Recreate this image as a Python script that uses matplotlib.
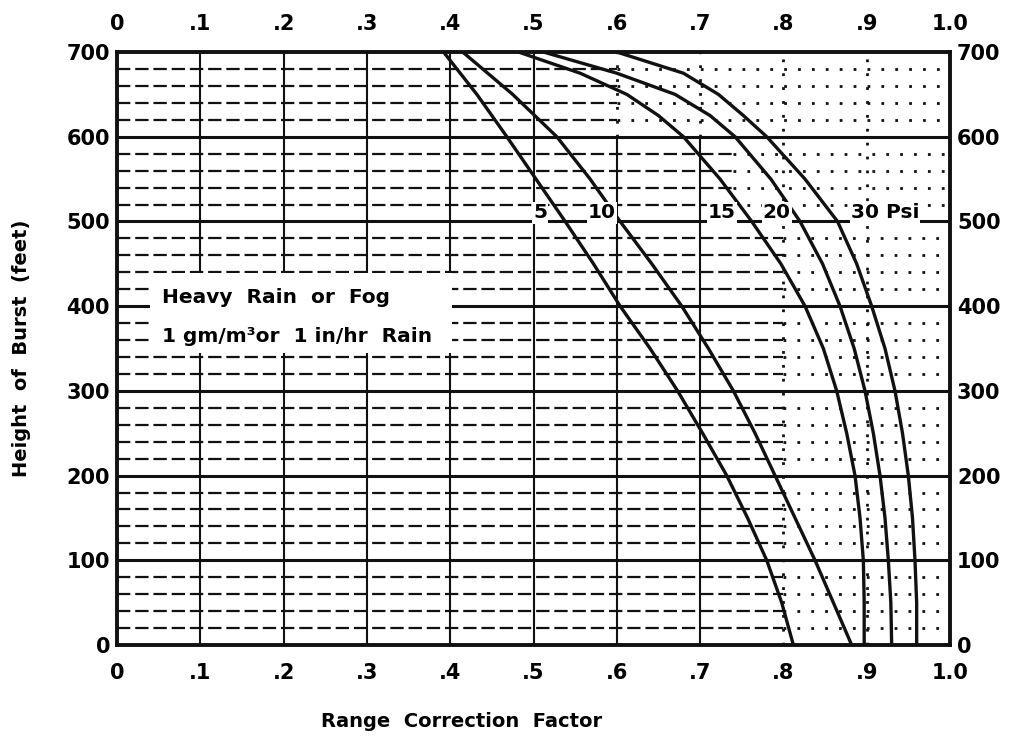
import matplotlib
matplotlib.use("Agg")
import matplotlib.pyplot as plt
import numpy as np

# ---------------- data ----------------
# height of burst (feet) and range correction factor, per overpressure curve
hob_5psi  = [700, 650, 600, 550, 500, 450, 400, 350, 300, 250, 200, 150, 100, 50, 0]
rcf_5psi  = [0.392, 0.432, 0.468, 0.503, 0.538, 0.572, 0.604, 0.640, 0.673, 0.703,
             0.732, 0.757, 0.780, 0.798, 0.812]
hob_10psi = [700, 650, 600, 550, 500, 450, 400, 350, 300, 250, 200, 150, 100, 50, 0]
rcf_10psi = [0.415, 0.475, 0.528, 0.568, 0.604, 0.642, 0.678, 0.710, 0.740, 0.766,
             0.790, 0.814, 0.838, 0.860, 0.882]
hob_15psi = [700, 675, 650, 625, 600, 550, 500, 450, 400, 350, 300, 250, 200, 150, 100, 50, 0]
rcf_15psi = [0.482, 0.556, 0.612, 0.650, 0.680, 0.724, 0.762, 0.797, 0.826, 0.848,
             0.864, 0.876, 0.886, 0.892, 0.896, 0.897, 0.897]
hob_20psi = [700, 675, 650, 625, 600, 550, 500, 450, 400, 350, 300, 250, 200, 150, 100, 50, 0]
rcf_20psi = [0.512, 0.600, 0.670, 0.712, 0.742, 0.785, 0.820, 0.847, 0.868, 0.885,
             0.898, 0.908, 0.916, 0.922, 0.926, 0.929, 0.930]
hob_30psi = [700, 675, 650, 625, 600, 550, 500, 450, 400, 350, 300, 250, 200, 150, 100, 50, 0]
rcf_30psi = [0.600, 0.680, 0.722, 0.752, 0.780, 0.826, 0.865, 0.888, 0.906, 0.922,
             0.934, 0.943, 0.950, 0.955, 0.958, 0.960, 0.960]

curve_labels = ["5", "10", "15", "20", "30 Psi"]
label_x = [0.508, 0.582, 0.726, 0.792, 0.922]
label_y = 510

x_ticks = [0, 0.1, 0.2, 0.3, 0.4, 0.5, 0.6, 0.7, 0.8, 0.9, 1.0]
x_tick_labels = ["0", ".1", ".2", ".3", ".4", ".5", ".6", ".7", ".8", ".9", "1.0"]
y_ticks = [0, 100, 200, 300, 400, 500, 600, 700]
y_tick_labels = ["0", "100", "200", "300", "400", "500", "600", "700"]

x_label = "Range  Correction  Factor"
y_label = "Height  of  Burst  (feet)"
note_lines = ["Heavy  Rain  or  Fog", "1 gm/m\u00b3or  1 in/hr  Rain"]

# ---------------- figure ----------------
plt.rcParams['font.family'] = ['DejaVu Sans']
plt.rcParams['font.weight'] = 'bold'

fig = plt.figure(figsize=(10.09, 7.38), dpi=100)
ax = fig.add_axes([0.116, 0.126, 0.8255, 0.8035])
ax.set_xlim(0, 1.0)
ax.set_ylim(0, 700)

ink = "#111111"
dash = (0, (6, 2.2))
dot = (0, (1.0, 4.0))

# minor horizontal grid (every 20 ft): dashed on the left, dotted further right
minor_y = [v for v in range(20, 700, 20) if v % 100 != 0]
for v in minor_y:
    xb = 0.80 if v < 500 else (0.74 if v < 600 else 0.60)
    ax.hlines(v, 0.0, xb, colors=ink, linestyles=dash, linewidth=1.6, zorder=1)
    ax.hlines(v, xb, 1.0, colors=ink, linestyles=dot, linewidth=2.0, zorder=1)

# major horizontal grid (every 100 ft)
ax.hlines(y_ticks[1:-1], 0, 1.0, colors=ink, linewidth=2.2, zorder=2)

# vertical grid at every 0.1
ax.vlines(x_ticks[1:6], 0, 700, colors=ink, linewidth=1.5, zorder=2)
ax.vlines(x_ticks[6:8], 0, 600, colors=ink, linewidth=1.5, zorder=2)
ax.vlines(x_ticks[6:8], 600, 700, colors=ink, linestyles=dot, linewidth=2.0, zorder=2)
ax.vlines(x_ticks[8:10], 0, 700, colors=ink, linestyles=dot, linewidth=2.0, zorder=2)

# note box (white, blanks the grid)
ax.add_patch(plt.Rectangle((0.040, 345), 0.362, 94, facecolor="white", edgecolor="none", zorder=3))
ax.text(0.054, 410, note_lines[0], fontsize=14.5, fontweight='bold', va='center', ha='left', zorder=4)
ax.text(0.054, 364, note_lines[1], fontsize=14.5, fontweight='bold', va='center', ha='left', zorder=4)

# curves
for hs, xs in [(hob_5psi, rcf_5psi), (hob_10psi, rcf_10psi), (hob_15psi, rcf_15psi),
               (hob_20psi, rcf_20psi), (hob_30psi, rcf_30psi)]:
    ax.plot(xs, hs, color=ink, linewidth=2.4, solid_joinstyle='round', zorder=5)

# curve labels on the 500 ft line
for lx, lab in zip(label_x, curve_labels):
    ax.text(lx, label_y, lab, fontsize=14.5, fontweight='bold', ha='center', va='center',
            zorder=6, bbox=dict(facecolor='white', edgecolor='none', pad=0.8))

# frame
for s in ax.spines.values():
    s.set_linewidth(2.8)
    s.set_color(ink)
    s.set_zorder(7)

# ticks
ax.set_xticks(x_ticks)
ax.set_xticklabels(x_tick_labels)
ax.set_yticks(y_ticks)
ax.set_yticklabels(y_tick_labels)
ax.tick_params(axis='both', length=0, labelsize=15)
ax.tick_params(axis='x', top=False, bottom=False, labeltop=True, labelbottom=True, pad=13)
ax.tick_params(axis='y', left=False, right=False, labelleft=True, labelright=True, pad=5)
for t in ax.get_xticklabels() + ax.get_yticklabels():
    t.set_fontweight('bold')

ax.set_xlabel(x_label, fontsize=14, fontweight='bold')
ax.xaxis.set_label_coords(0.414, -0.113)
ax.set_ylabel(y_label, fontsize=14, fontweight='bold')
ax.yaxis.set_label_coords(-0.103, 0.50)

fig.savefig("out.png", dpi=100, facecolor="white")
